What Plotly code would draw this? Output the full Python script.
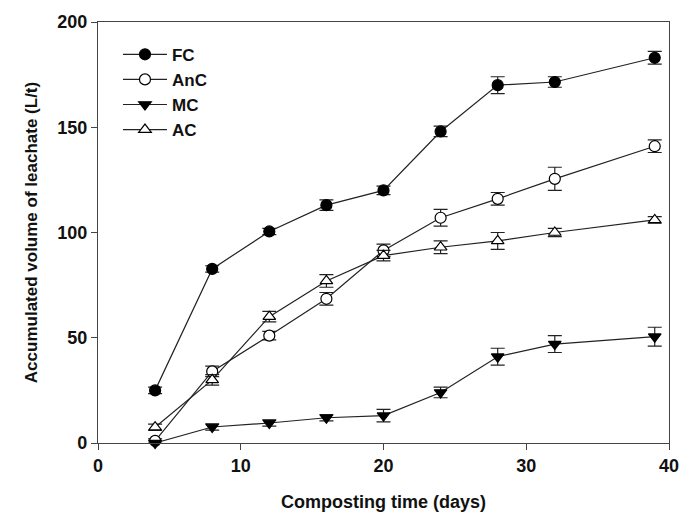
import plotly.graph_objects as go

days = [4, 8, 12, 16, 20, 24, 28, 32, 39]
fc = [25, 82.7, 100.5, 113, 120, 148, 170, 171.5, 183]
fc_err = [1.5, 1.5, 1.5, 2.5, 2, 2.5, 4, 2.5, 3]
anc = [1, 34, 51, 68.5, 91.5, 107, 116, 125.5, 141]
anc_err = [1, 2.5, 2, 3, 3, 4, 3, 5.5, 3]
mc = [0, 7.6, 9.5, 12, 13, 24, 41, 47, 50.5]
mc_err = [1, 1.5, 1.5, 1.5, 3, 2.5, 4, 4, 4.5]
ac = [7.5, 30, 60, 77, 89, 93, 96, 100, 106]
ac_err = [1.5, 2.5, 2.5, 3, 2.5, 3, 4, 2, 1.5]

series = [
    ("FC", fc, fc_err, "circle", "black"),
    ("AnC", anc, anc_err, "circle", "white"),
    ("MC", mc, mc_err, "triangle-down", "black"),
    ("AC", ac, ac_err, "triangle-up", "white"),
]

fig = go.Figure()
for name, vals, errs, sym, fill in series:
    fig.add_trace(go.Scatter(
        x=days, y=vals, name=name, mode="lines+markers",
        line=dict(color="#222222", width=1.2),
        marker=dict(symbol=sym, size=11, color=fill,
                    line=dict(color="black", width=1.2)),
        error_y=dict(type="data", array=errs, visible=True,
                     color="#222222", thickness=1.2, width=7),
        cliponaxis=False,
    ))

FAM = "Liberation Sans, Arial, sans-serif"
def bf(size):
    return dict(family=FAM, size=size, color="#111111", weight="bold")

fig.update_layout(
    width=695, height=521,
    margin=dict(l=98, r=26, t=22, b=78),
    paper_bgcolor="white", plot_bgcolor="white",
    font=bf(17),
    showlegend=True,
    legend=dict(x=0.035, y=0.965, xanchor="left", yanchor="top",
                bgcolor="rgba(0,0,0,0)", font=bf(17),
                tracegroupgap=0, itemwidth=44),
    xaxis=dict(range=[0, 40], tickvals=[0, 10, 20, 30, 40],
               ticks="outside", ticklen=6, tickcolor="#444",
               showline=True, linecolor="#444", linewidth=1.2, mirror=True,
               showgrid=False, zeroline=False,
               tickfont=bf(18),
               title=dict(text="Composting time (days)",
                          font=bf(18), standoff=20)),
    yaxis=dict(range=[0, 200], tickvals=[0, 50, 100, 150, 200],
               ticks="outside", ticklen=6, tickcolor="#444",
               showline=True, linecolor="#444", linewidth=1.2, mirror=True,
               showgrid=False, zeroline=False,
               tickfont=bf(18),
               title=dict(text="Accumulated volume of leachate (L/t)",
                          font=bf(17), standoff=15)),
)

fig.write_html("out.html")
